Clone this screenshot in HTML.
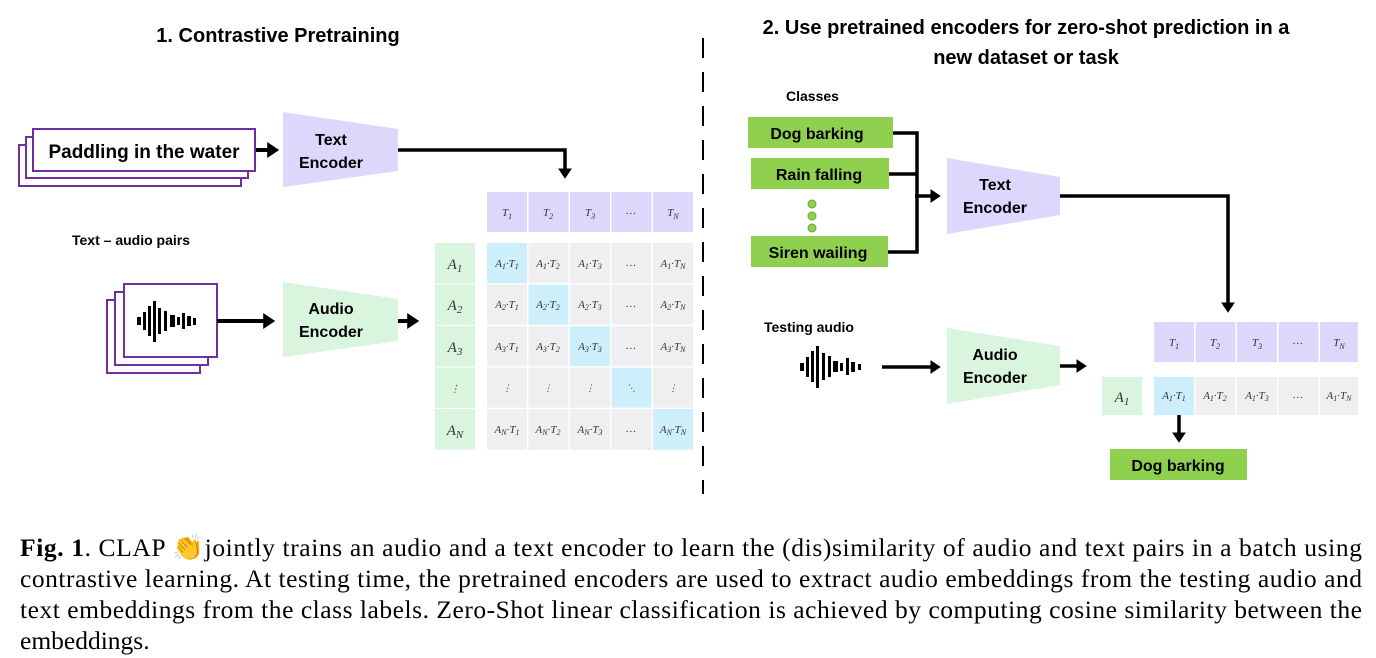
<!DOCTYPE html>
<html><head><meta charset="utf-8"><style>
html,body{margin:0;padding:0;background:#fff;}
svg{display:block;}
.b{font-family:"Liberation Sans",sans-serif;font-weight:bold;fill:#000;}
.m{font-family:"Liberation Serif",serif;font-style:italic;fill:#333;}
.c{font-family:"Liberation Serif",serif;font-size:25.5px;fill:#000;}
</style></head><body>
<svg width="1376" height="658" viewBox="0 0 1376 658" xmlns="http://www.w3.org/2000/svg">
<defs>
<marker id="ah" markerWidth="4" markerHeight="4" refX="2.2" refY="2" orient="auto" markerUnits="strokeWidth"><path d="M0,0 L3,2 L0,4 z" fill="#000"/></marker>
</defs>
<text class="b" x="278" y="42" font-size="20" text-anchor="middle">1. Contrastive Pretraining</text>
<text class="b" x="1026" y="34" font-size="20" text-anchor="middle">2. Use pretrained encoders for zero-shot prediction in a</text>
<text class="b" x="1026" y="64" font-size="20" text-anchor="middle">new dataset or task</text>
<line x1="703" y1="38" x2="703" y2="494" stroke="#000" stroke-width="2" stroke-dasharray="20,14"/>

<rect x="19" y="145" width="222" height="41" fill="#fff" stroke="#7030a0" stroke-width="2"/>
<rect x="26" y="137" width="222" height="41" fill="#fff" stroke="#7030a0" stroke-width="2"/>
<rect x="33" y="129" width="222" height="42" fill="#fff" stroke="#7030a0" stroke-width="2"/>
<text class="b" x="144" y="158" font-size="19" text-anchor="middle">Paddling in the water</text>
<line x1="256" y1="150" x2="276" y2="150" stroke="#000" stroke-width="4" marker-end="url(#ah)"/>
<polygon points="283,112 398,129 398,171 283,187" fill="#dcd7fb"/>
<text class="b" x="331" y="145" font-size="16" text-anchor="middle">Text</text>
<text class="b" x="331" y="168" font-size="16" text-anchor="middle">Encoder</text>
<polyline points="398,150 565,150 565,176" fill="none" stroke="#000" stroke-width="3.5" marker-end="url(#ah)"/>

<text class="b" x="72" y="245" font-size="14">Text – audio pairs</text>
<rect x="107" y="300" width="93" height="73" fill="#fff" stroke="#7030a0" stroke-width="2"/>
<rect x="115" y="292" width="93" height="73" fill="#fff" stroke="#7030a0" stroke-width="2"/>
<rect x="124" y="284" width="93" height="73" fill="#fff" stroke="#7030a0" stroke-width="2"/>
<g fill="#000">
<rect x="137" y="317" width="4" height="8"/><rect x="143" y="312" width="3" height="18"/><rect x="148" y="306" width="3" height="30"/><rect x="153" y="301" width="3" height="41"/><rect x="158" y="308" width="3" height="26"/><rect x="164" y="311" width="3" height="20"/><rect x="170" y="315" width="5" height="12"/><rect x="177" y="317" width="3" height="8"/><rect x="182" y="313" width="3" height="16"/><rect x="187" y="316" width="4" height="10"/><rect x="193" y="318" width="3" height="7"/>
</g>
<line x1="217" y1="321" x2="272" y2="321" stroke="#000" stroke-width="4" marker-end="url(#ah)"/>
<polygon points="283,282 398,299 398,341 283,357" fill="#d9f5de"/>
<text class="b" x="331" y="314" font-size="16" text-anchor="middle">Audio</text>
<text class="b" x="331" y="337" font-size="16" text-anchor="middle">Encoder</text>
<line x1="398" y1="321" x2="416" y2="321" stroke="#000" stroke-width="4" marker-end="url(#ah)"/>

<g fill="#dcd7fb">
<rect x="487" y="192" width="40" height="40"/><rect x="528.5" y="192" width="40" height="40"/><rect x="570" y="192" width="40" height="40"/><rect x="611.5" y="192" width="40" height="40"/><rect x="653" y="192" width="40" height="40"/>
</g>
<g fill="#d9f5de">
<rect x="435" y="243" width="40" height="40.5"/><rect x="435" y="284.5" width="40" height="40.5"/><rect x="435" y="326" width="40" height="40.5"/><rect x="435" y="367.5" width="40" height="40.5"/><rect x="435" y="409" width="40" height="40.5"/>
</g>
<rect x="487" y="243" width="206" height="207" fill="#efeff1"/>
<g fill="#cdeffb">
<rect x="487" y="243" width="40" height="40.5"/><rect x="528.5" y="284.5" width="40" height="40.5"/><rect x="570" y="326" width="40" height="40.5"/><rect x="611.5" y="367.5" width="40" height="40.5"/><rect x="653" y="409" width="40" height="40.5"/>
</g>
<g stroke="#fff" stroke-width="1.5">
<line x1="527.7" y1="243" x2="527.7" y2="450"/><line x1="569.2" y1="243" x2="569.2" y2="450"/><line x1="610.7" y1="243" x2="610.7" y2="450"/><line x1="652.2" y1="243" x2="652.2" y2="450"/>
<line x1="487" y1="283.9" x2="693" y2="283.9"/><line x1="487" y1="325.4" x2="693" y2="325.4"/><line x1="487" y1="366.9" x2="693" y2="366.9"/><line x1="487" y1="408.4" x2="693" y2="408.4"/>
</g>
<g class="m" font-size="11" text-anchor="middle">
<text x="507" y="216">T<tspan font-size="8" dy="3">1</tspan></text>
<text x="548" y="216">T<tspan font-size="8" dy="3">2</tspan></text>
<text x="590" y="216">T<tspan font-size="8" dy="3">3</tspan></text>
<text x="631" y="214">…</text>
<text x="673" y="216">T<tspan font-size="8" dy="3">N</tspan></text>
</g>
<g class="m" font-size="15" text-anchor="middle">
<text x="455" y="269">A<tspan font-size="11" dy="3">1</tspan></text>
<text x="455" y="310">A<tspan font-size="11" dy="3">2</tspan></text>
<text x="455" y="352">A<tspan font-size="11" dy="3">3</tspan></text>
<text x="455" y="392" font-size="10">⋮</text>
<text x="455" y="435">A<tspan font-size="11" dy="3">N</tspan></text>
</g>
<g class="m" font-size="11" text-anchor="middle">
<text x="507" y="267">A<tspan font-size="8" dy="2">1</tspan><tspan dy="-2">·T</tspan><tspan font-size="8" dy="2">1</tspan></text>
<text x="548" y="267">A<tspan font-size="8" dy="2">1</tspan><tspan dy="-2">·T</tspan><tspan font-size="8" dy="2">2</tspan></text>
<text x="590" y="267">A<tspan font-size="8" dy="2">1</tspan><tspan dy="-2">·T</tspan><tspan font-size="8" dy="2">3</tspan></text>
<text x="631" y="266">…</text>
<text x="673" y="267">A<tspan font-size="8" dy="2">1</tspan><tspan dy="-2">·T</tspan><tspan font-size="8" dy="2">N</tspan></text>
<text x="507" y="308">A<tspan font-size="8" dy="2">2</tspan><tspan dy="-2">·T</tspan><tspan font-size="8" dy="2">1</tspan></text>
<text x="548" y="308">A<tspan font-size="8" dy="2">2</tspan><tspan dy="-2">·T</tspan><tspan font-size="8" dy="2">2</tspan></text>
<text x="590" y="308">A<tspan font-size="8" dy="2">2</tspan><tspan dy="-2">·T</tspan><tspan font-size="8" dy="2">3</tspan></text>
<text x="631" y="307">…</text>
<text x="673" y="308">A<tspan font-size="8" dy="2">2</tspan><tspan dy="-2">·T</tspan><tspan font-size="8" dy="2">N</tspan></text>
<text x="507" y="350">A<tspan font-size="8" dy="2">3</tspan><tspan dy="-2">·T</tspan><tspan font-size="8" dy="2">1</tspan></text>
<text x="548" y="350">A<tspan font-size="8" dy="2">3</tspan><tspan dy="-2">·T</tspan><tspan font-size="8" dy="2">2</tspan></text>
<text x="590" y="350">A<tspan font-size="8" dy="2">3</tspan><tspan dy="-2">·T</tspan><tspan font-size="8" dy="2">3</tspan></text>
<text x="631" y="349">…</text>
<text x="673" y="350">A<tspan font-size="8" dy="2">3</tspan><tspan dy="-2">·T</tspan><tspan font-size="8" dy="2">N</tspan></text>
<text x="507" y="391" font-size="9">⋮</text><text x="548" y="391" font-size="9">⋮</text><text x="590" y="391" font-size="9">⋮</text><text x="631" y="391" font-size="9">⋱</text><text x="673" y="391" font-size="9">⋮</text>
<text x="507" y="433">A<tspan font-size="8" dy="2">N</tspan><tspan dy="-2">·T</tspan><tspan font-size="8" dy="2">1</tspan></text>
<text x="548" y="433">A<tspan font-size="8" dy="2">N</tspan><tspan dy="-2">·T</tspan><tspan font-size="8" dy="2">2</tspan></text>
<text x="590" y="433">A<tspan font-size="8" dy="2">N</tspan><tspan dy="-2">·T</tspan><tspan font-size="8" dy="2">3</tspan></text>
<text x="631" y="432">…</text>
<text x="673" y="433">A<tspan font-size="8" dy="2">N</tspan><tspan dy="-2">·T</tspan><tspan font-size="8" dy="2">N</tspan></text>
</g>

<text class="b" x="786" y="101" font-size="14">Classes</text>
<rect x="748" y="117" width="145" height="31" fill="#8fd14f"/>
<text class="b" x="817" y="139" font-size="16" text-anchor="middle">Dog barking</text>
<rect x="751" y="158" width="138" height="31" fill="#8fd14f"/>
<text class="b" x="819" y="180" font-size="16" text-anchor="middle">Rain falling</text>
<circle cx="812" cy="204" r="4" fill="#8fd14f" stroke="#6aa73a"/>
<circle cx="812" cy="216" r="4" fill="#8fd14f" stroke="#6aa73a"/>
<circle cx="812" cy="228" r="4" fill="#8fd14f" stroke="#6aa73a"/>
<rect x="751" y="236" width="137" height="31" fill="#8fd14f"/>
<text class="b" x="818" y="258" font-size="16" text-anchor="middle">Siren wailing</text>
<g stroke="#000" stroke-width="3.5" fill="none">
<polyline points="893,133 917,133 917,252 888,252"/>
<line x1="889" y1="174" x2="917" y2="174"/>
<line x1="915" y1="196" x2="938" y2="196" marker-end="url(#ah)"/>
</g>
<polygon points="947,158 1060,177 1060,215 947,234" fill="#dcd7fb"/>
<text class="b" x="995" y="190" font-size="16" text-anchor="middle">Text</text>
<text class="b" x="995" y="213" font-size="16" text-anchor="middle">Encoder</text>
<polyline points="1060,196 1228,196 1228,310" fill="none" stroke="#000" stroke-width="3.5" marker-end="url(#ah)"/>

<text class="b" x="764" y="332" font-size="14">Testing audio</text>
<g fill="#000">
<rect x="800" y="363" width="4" height="8"/><rect x="806" y="357" width="3" height="20"/><rect x="811" y="351" width="3" height="31"/><rect x="816" y="346" width="3" height="42"/><rect x="822" y="353" width="3" height="27"/><rect x="828" y="356" width="3" height="21"/><rect x="833" y="361" width="5" height="11"/><rect x="840" y="363" width="3" height="8"/><rect x="846" y="358" width="3" height="17"/><rect x="851" y="362" width="4" height="10"/><rect x="858" y="364" width="3" height="6"/>
</g>
<line x1="882" y1="367" x2="938" y2="367" stroke="#000" stroke-width="3.5" marker-end="url(#ah)"/>
<polygon points="947,328 1060,346 1060,385 947,404" fill="#d9f5de"/>
<text class="b" x="995" y="360" font-size="16" text-anchor="middle">Audio</text>
<text class="b" x="995" y="383" font-size="16" text-anchor="middle">Encoder</text>
<line x1="1060" y1="366" x2="1084" y2="366" stroke="#000" stroke-width="3.5" marker-end="url(#ah)"/>

<g fill="#dcd7fb">
<rect x="1154" y="322" width="40" height="40"/><rect x="1195.5" y="322" width="40" height="40"/><rect x="1237" y="322" width="40" height="40"/><rect x="1278.5" y="322" width="40" height="40"/><rect x="1320" y="322" width="38" height="40"/>
</g>
<rect x="1102" y="377" width="40" height="38" fill="#d9f5de"/>
<rect x="1154" y="377" width="204" height="38" fill="#efeff1"/>
<rect x="1154" y="377" width="40" height="38" fill="#cdeffb"/>
<g stroke="#fff" stroke-width="1.5"><line x1="1194.7" y1="377" x2="1194.7" y2="415"/><line x1="1236.2" y1="377" x2="1236.2" y2="415"/><line x1="1277.7" y1="377" x2="1277.7" y2="415"/><line x1="1319.2" y1="377" x2="1319.2" y2="415"/></g>
<g class="m" font-size="11" text-anchor="middle">
<text x="1174" y="346">T<tspan font-size="8" dy="3">1</tspan></text>
<text x="1215" y="346">T<tspan font-size="8" dy="3">2</tspan></text>
<text x="1257" y="346">T<tspan font-size="8" dy="3">3</tspan></text>
<text x="1298" y="344">…</text>
<text x="1339" y="346">T<tspan font-size="8" dy="3">N</tspan></text>
<text x="1174" y="399">A<tspan font-size="8" dy="2">1</tspan><tspan dy="-2">·T</tspan><tspan font-size="8" dy="2">1</tspan></text>
<text x="1215" y="399">A<tspan font-size="8" dy="2">1</tspan><tspan dy="-2">·T</tspan><tspan font-size="8" dy="2">2</tspan></text>
<text x="1257" y="399">A<tspan font-size="8" dy="2">1</tspan><tspan dy="-2">·T</tspan><tspan font-size="8" dy="2">3</tspan></text>
<text x="1298" y="398">…</text>
<text x="1339" y="399">A<tspan font-size="8" dy="2">1</tspan><tspan dy="-2">·T</tspan><tspan font-size="8" dy="2">N</tspan></text>
</g>
<text class="m" x="1122" y="402" font-size="15" text-anchor="middle">A<tspan font-size="11" dy="3">1</tspan></text>
<line x1="1179" y1="415" x2="1179" y2="440" stroke="#000" stroke-width="3.5" marker-end="url(#ah)"/>
<rect x="1110" y="449" width="137" height="31" fill="#8fd14f"/>
<text class="b" x="1178" y="471" font-size="16" text-anchor="middle">Dog barking</text>

<text class="c" x="20" y="556" textLength="1342" lengthAdjust="spacing"><tspan font-weight="bold">Fig. 1</tspan>. CLAP <tspan fill="#f2b632">👏</tspan>jointly trains an audio and a text encoder to learn the (dis)similarity of audio and text pairs in a batch using</text>
<text class="c" x="20" y="587" textLength="1342" lengthAdjust="spacing">contrastive learning. At testing time, the pretrained encoders are used to extract audio embeddings from the testing audio and</text>
<text class="c" x="20" y="618" textLength="1342" lengthAdjust="spacing">text embeddings from the class labels. Zero-Shot linear classification is achieved by computing cosine similarity between the</text>
<text class="c" x="20" y="649">embeddings.</text>
</svg>
</body></html>
